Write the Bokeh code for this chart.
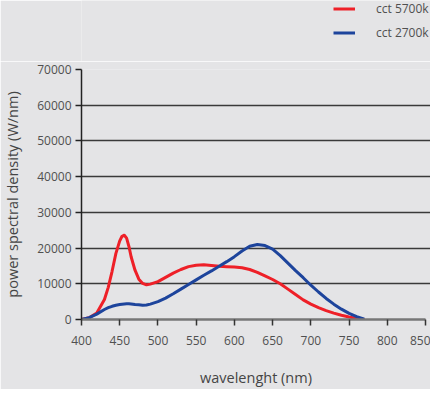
from bokeh.plotting import figure
from bokeh.layouts import column
from bokeh.models import Range1d, FixedTicker, Legend, LegendItem
from bokeh.embed import file_html
from bokeh.resources import INLINE

wl = [400, 410, 420, 430, 435, 440, 445, 450, 453, 456, 459, 462, 465, 470, 475, 480,
      485, 490, 500, 510, 520, 530, 540, 550, 560, 570, 580, 590, 600, 610, 620, 630,
      640, 650, 660, 670, 680, 690, 700, 710, 720, 730, 740, 750, 760, 770]
cct5700 = [0, 500, 1800, 5600, 9000, 13500, 18500, 22000, 23300, 23600, 22800, 20500,
           17500, 13800, 11300, 10100, 9700, 9900, 10600, 11800, 13000, 14000, 14800,
           15200, 15300, 15100, 14900, 14800, 14700, 14500, 14000, 13200, 12200, 11200,
           10000, 8500, 7000, 5500, 4300, 3300, 2500, 1800, 1200, 700, 300, 0]
cct2700 = [0, 500, 1500, 2800, 3300, 3700, 4000, 4200, 4300, 4350, 4400, 4400, 4350,
           4200, 4100, 4000, 4050, 4300, 5000, 6000, 7200, 8500, 9800, 11100, 12400,
           13600, 14900, 16200, 17600, 19200, 20500, 21000, 20700, 19700, 17900, 15800,
           13700, 11700, 9600, 7700, 5900, 4300, 2900, 1700, 800, 100]
x_ticks = [400, 450, 500, 550, 600, 650, 700, 750, 800, 850]
y_ticks = [0, 10000, 20000, 30000, 40000, 50000, 60000, 70000]
labels = ["cct 5700k", "cct 2700k"]
colors = ["#ee2028", "#1d449c"]
series = [cct5700, cct2700]

FONT = "Open Sans"
BG = "#e4e4e6"

# legend strip above the plot (frame spans x 80..430, like the main plot's)
top = figure(width=430, height=61, output_backend="svg", toolbar_location=None,
             x_range=Range1d(0, 1), y_range=Range1d(-2, -1),
             min_border_left=80, min_border_right=0, min_border_top=0, min_border_bottom=0)
top.axis.visible = False
top.grid.visible = False
top.outline_line_color = None
top.background_fill_color = BG
top.border_fill_color = BG
# same series drawn here only so the legend has line glyphs; they fall outside this strip's ranges
lr = [top.line(wl, s, line_color=c, line_width=3) for s, c in zip(series, colors)]
legend = Legend(items=[LegendItem(label=l, renderers=[r]) for l, r in zip(labels, lr)],
                location=(252, 20), orientation="vertical",
                background_fill_alpha=0, border_line_color=None,
                label_text_font=FONT, label_text_font_size="12px", label_text_color="#505050",
                glyph_width=22, glyph_height=17, label_height=17, spacing=7,
                label_standoff=21, padding=0, margin=0)
top.add_layout(legend, "center")

p = figure(width=430, height=328, output_backend="svg", toolbar_location=None,
           x_range=Range1d(400, 856.5), y_range=Range1d(0, 70000),
           min_border_left=80, min_border_right=0, min_border_top=8, min_border_bottom=67)
p.background_fill_color = BG
p.border_fill_color = BG
p.outline_line_color = None

for s, c in zip(series, colors):
    p.line(wl, s, line_color=c, line_width=3, line_join="round")

p.xgrid.grid_line_color = None
p.ygrid.ticker = FixedTicker(ticks=y_ticks)
p.ygrid.bounds = (400, 850)
p.ygrid.grid_line_color = "#3a3a3a"
p.ygrid.grid_line_width = 1.5

p.xaxis.ticker = FixedTicker(ticks=x_ticks)
p.yaxis.ticker = FixedTicker(ticks=y_ticks)
p.xaxis.bounds = (400, 850)
p.xaxis.axis_label = "wavelenght (nm)"
p.yaxis.axis_label = "power spectral density (W/nm)"
for ax in (p.xaxis[0], p.yaxis[0]):
    ax.major_label_text_font = FONT
    ax.major_label_text_font_size = "12px"
    ax.major_label_text_color = "#505050"
    ax.axis_label_text_font = FONT
    ax.axis_label_text_font_size = "14.5px"
    ax.axis_label_text_font_style = "normal"
    ax.axis_label_text_color = "#454545"
    ax.minor_tick_line_color = None
    ax.major_tick_in = 0
    ax.major_tick_out = 6
p.xaxis.axis_line_color = "#777777"
p.xaxis.axis_line_width = 2.5
p.xaxis.major_tick_line_color = "#333333"
p.xaxis.major_tick_line_width = 1.5
p.xaxis.major_label_standoff = 10
p.xaxis.axis_label_standoff = 20
p.yaxis.axis_line_color = "#222222"
p.yaxis.axis_line_width = 1.5
p.yaxis.major_tick_line_color = "#222222"
p.yaxis.major_tick_line_width = 1.5
p.yaxis.major_label_standoff = 4
p.yaxis.axis_label_standoff = 12

layout = column(top, p, spacing=0)
open("out.html", "w").write(file_html(layout, INLINE))
